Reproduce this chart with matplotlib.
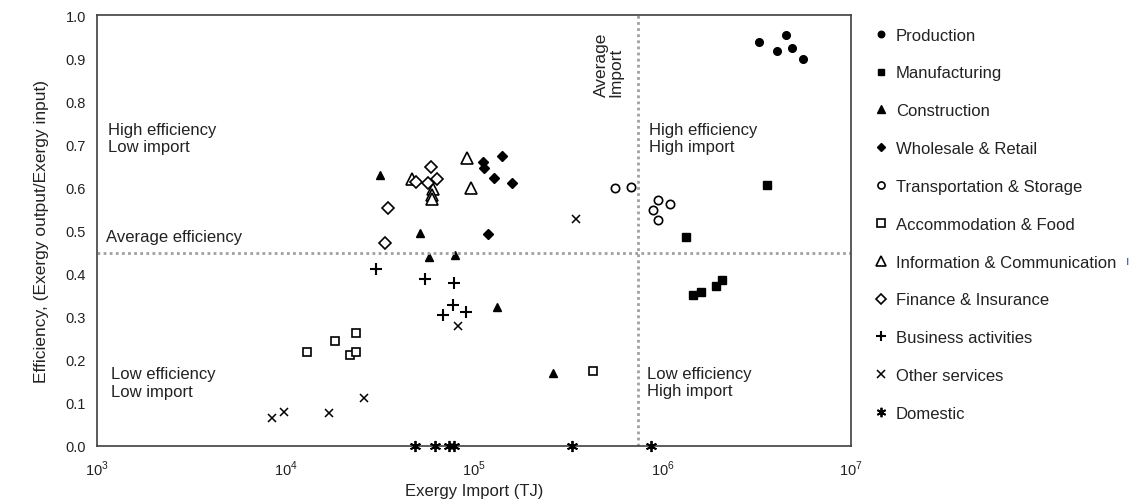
import numpy as np
import matplotlib
matplotlib.use('Agg')
import matplotlib.pyplot as plt
from matplotlib.ticker import FixedLocator, NullLocator

plt.rcParams['font.family'] = ['Liberation Sans', 'DejaVu Sans']
plt.rcParams['mathtext.fontset'] = 'custom'
plt.rcParams['mathtext.rm'] = 'Liberation Sans'

# data: (exergy import TJ, efficiency)
production_x = [3.24e6, 4.05e6, 4.52e6, 4.86e6, 5.56e6]
production_y = [0.938, 0.916, 0.954, 0.923, 0.898]
manufacturing_x = [3.58e6, 1.34e6, 1.45e6, 1.61e6, 1.92e6, 2.08e6]
manufacturing_y = [0.606, 0.484, 0.351, 0.358, 0.371, 0.384]
construction_x = [3.19e4, 5.2e4, 5.78e4, 7.9e4, 1.33e5, 2.64e5]
construction_y = [0.629, 0.494, 0.438, 0.444, 0.323, 0.169]
wholesale_x = [1.12e5, 1.13e5, 1.41e5, 1.27e5, 1.6e5, 1.18e5]
wholesale_y = [0.658, 0.644, 0.673, 0.621, 0.610, 0.491]
transport_x = [5.6e5, 6.78e5, 9.5e5, 8.95e5, 1.09e6, 9.5e5]
transport_y = [0.599, 0.602, 0.571, 0.548, 0.561, 0.525]
accommodation_x = [1.3e4, 1.84e4, 2.38e4, 2.21e4, 2.37e4, 4.3e5]
accommodation_y = [0.217, 0.244, 0.262, 0.212, 0.217, 0.175]
information_x = [9.2e4, 4.7e4, 6.04e4, 6.0e4, 6.0e4, 9.6e4]
information_y = [0.669, 0.619, 0.596, 0.582, 0.573, 0.598]
finance_x = [5.95e4, 4.95e4, 5.69e4, 6.38e4, 3.5e4, 3.36e4]
finance_y = [0.648, 0.613, 0.611, 0.619, 0.552, 0.471]
business_x = [3.03e4, 5.5e4, 7.8e4, 7.7e4, 6.85e4, 9.1e4]
business_y = [0.410, 0.387, 0.378, 0.326, 0.304, 0.312]
other_x = [8.47e3, 9.77e3, 1.71e4, 2.62e4, 8.2e4, 3.49e5]
other_y = [0.064, 0.078, 0.077, 0.111, 0.279, 0.527]
domestic_x = [4.85e4, 6.2e4, 7.4e4, 7.8e4, 3.3e5, 8.67e5]
domestic_y = [0.0, 0.0, 0.0, 0.0, 0.0, 0.0]

avg_efficiency = 0.448
avg_import = 7.4e5

x_ticks = [1e3, 1e4, 1e5, 1e6, 1e7]
x_ticklabels = ['$10^{3}$', '$10^{4}$', '$10^{5}$', '$10^{6}$', '$10^{7}$']
y_ticks = np.round(np.arange(0, 1.01, 0.1), 1)

fig = plt.figure(figsize=(11.36, 5.02), dpi=100)
ax = fig.add_axes([0.0854, 0.1096, 0.6637, 0.8585])

k = 'black'
ax.plot(production_x, production_y, 'o', color=k, ms=5.5, label='Production')
ax.plot(manufacturing_x, manufacturing_y, 's', color=k, ms=5.5, label='Manufacturing')
ax.plot(construction_x, construction_y, '^', color=k, ms=6, label='Construction')
ax.plot(wholesale_x, wholesale_y, 'D', color=k, ms=5.2, label='Wholesale & Retail')
ax.plot(transport_x, transport_y, 'o', mfc='white', mec=k, mew=1.2, ms=6, label='Transportation & Storage')
ax.plot(accommodation_x, accommodation_y, 's', mfc='white', mec=k, mew=1.2, ms=6, label='Accommodation & Food')
ax.plot(information_x, information_y, '^', mfc='white', mec=k, mew=1.2, ms=8, label='Information & Communication')
ax.plot(finance_x, finance_y, 'D', mfc='white', mec=k, mew=1.2, ms=6, label='Finance & Insurance')
ax.plot(business_x, business_y, '+', color=k, mew=1.5, ms=9, label='Business activities')
ax.plot(other_x, other_y, 'x', color=k, mew=1.1, ms=6, label='Other services')
ax.plot(domestic_x, domestic_y, marker=(6, 2, 0), ls='none', color=k, mew=1.3, ms=8,
        label='Domestic', clip_on=False, zorder=5)

# average lines
ax.axhline(avg_efficiency, color='#a0a0a0', ls=(0, (1, 1.2)), lw=2)
ax.axvline(avg_import, color='#a0a0a0', ls=(0, (1, 1.2)), lw=2)

ax.set_xscale('log')
ax.set_xlim(1e3, 1e7)
ax.set_ylim(0, 1)
ax.xaxis.set_major_locator(FixedLocator(x_ticks))
ax.xaxis.set_minor_locator(NullLocator())
ax.set_xticklabels(x_ticklabels)
ax.set_yticks(y_ticks)
ax.set_yticklabels(['%.1f' % v for v in y_ticks])
ax.tick_params(length=0, labelsize=10.5, colors='#222222')
ax.tick_params(axis='x', pad=9.5)
ax.tick_params(axis='y', pad=8)
for s in ax.spines.values():
    s.set_color('#404040')
    s.set_linewidth(1.2)

ax.set_xlabel('Exergy Import (TJ)', fontsize=12, color='#222222', labelpad=3)
ax.set_ylabel('Efficiency, (Exergy output/Exergy input)', fontsize=12.5, color='#222222', labelpad=12)

# quadrant text
tk = dict(fontsize=12, color='#222222', linespacing=1.2, va='center')
ax.text(1.14e3, 0.715, 'High efficiency\nLow import', **tk)
ax.text(1.18e3, 0.147, 'Low efficiency\nLow import', **tk)
ax.text(1.11e3, 0.485, 'Average efficiency', **tk)
ax.text(8.47e5, 0.715, 'High efficiency\nHigh import', **tk)
ax.text(8.3e5, 0.148, 'Low efficiency\nHigh import', **tk)
ax.text(5.2e5, 0.812, 'Average\nImport', rotation=90, ha='center', va='bottom',
        multialignment='left', fontsize=12.5, color='#222222', linespacing=0.95)

fig.legend(loc='upper left', bbox_to_anchor=(0.756, 0.973), frameon=False, fontsize=12,
           handlelength=0.9, handletextpad=0.42, labelspacing=1.37, markerscale=0.85,
           labelcolor='#222222')

fig.text(0.9925, 0.478, 'ı', fontsize=9, color='#3a5a8a', ha='center', va='center')

fig.savefig('out.png', dpi=100)
